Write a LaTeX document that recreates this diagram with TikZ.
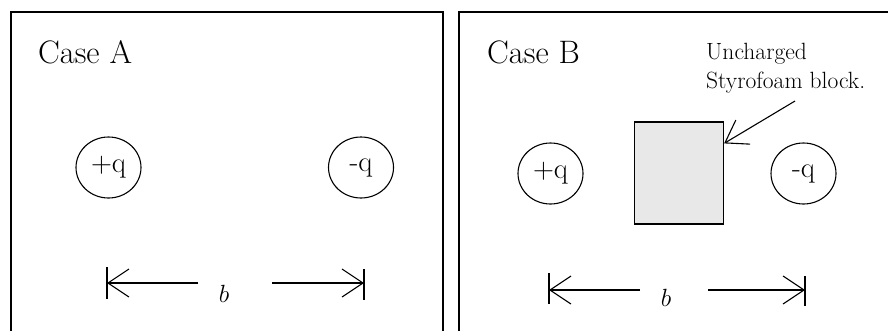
\documentclass[tikz,border=0pt]{standalone}
\usepackage{fontspec}
\setmainfont{Latin Modern Roman}
\usetikzlibrary{arrows.meta,shapes.geometric}
\definecolor{blockgray}{HTML}{E8E8E8}
\begin{document}
\begin{tikzpicture}[x=1pt,y=-1pt,
  panel/.style={line width=1.7pt},
  charge/.style={draw, ellipse, line width=1.1pt, minimum width=65pt, minimum height=61pt, inner sep=0pt, font=\fontsize{29}{31}\selectfont},
  casetitle/.style={anchor=base west, inner sep=0pt, font=\fontsize{32.5}{36}\selectfont},
  barb/.style={-{Straight Barb[length=21pt,width=28pt,line width=1.1pt]}, line width=1.1pt},
  endbar/.style={line width=1.3pt},
  dimlabel/.style={anchor=base, inner sep=0pt, font=\fontsize{34}{38}\selectfont},
  blockbox/.style={draw, line width=1.2pt, fill=blockgray, minimum width=89pt, minimum height=102pt, inner sep=0pt},
  note/.style={anchor=north west, inner sep=0pt, align=left, font=\fontsize{23.5}{29}\selectfont}
]
\useasboundingbox (0,0) rectangle (888,330);
\clip (0,0) rectangle (888,330);

% panels
\draw[panel] (11,340) -- (11,12) -- (443,12) -- (443,340);
\draw[panel] (459,340) -- (459,12) -- (895,12);

% Case A
\node[casetitle] (titleA) at (38,63) {Case A};
\node[charge] (pA) at (108.5,167.5) {+q};
\node[charge] (nA) at (361,167.5) {-q};
\node[dimlabel] (bA) at (224,302) {$b$};
\coordinate (aL) at (107,283);
\coordinate (aLm) at (198,283);
\coordinate (aR) at (364,283);
\coordinate (aRm) at (272,283);
\draw[barb] (aLm) -- (aL);
\draw[barb] (aRm) -- (aR);
\draw[endbar] ([yshift=16pt]aL) -- ([yshift=-16pt]aL);
\draw[endbar] ([yshift=14pt]aR) -- ([yshift=-17pt]aR);

% Case B
\node[casetitle] (titleB) at (487,63) {Case B};
\node[charge] (pB) at (550.5,173.5) {+q};
\node[charge] (nB) at (803.5,173.5) {-q};
\node[blockbox] (blk) at (679,173) {};
\node[note] (lbl) at (706,43) {Uncharged\\Styrofoam block.};
\coordinate (lt) at (795,101);
\draw[barb] (lt) -- ([yshift=-22pt]blk.north east);
\node[dimlabel] (bB) at (666,306) {$b$};
\coordinate (bL) at (549,290);
\coordinate (bLm) at (640,290);
\coordinate (bR) at (805,290);
\coordinate (bRm) at (708,290);
\draw[barb] (bLm) -- (bL);
\draw[barb] (bRm) -- (bR);
\draw[endbar] ([yshift=17pt]bL) -- ([yshift=-14pt]bL);
\draw[endbar] ([yshift=14pt]bR) -- ([yshift=-16pt]bR);
\end{tikzpicture}
\end{document}
